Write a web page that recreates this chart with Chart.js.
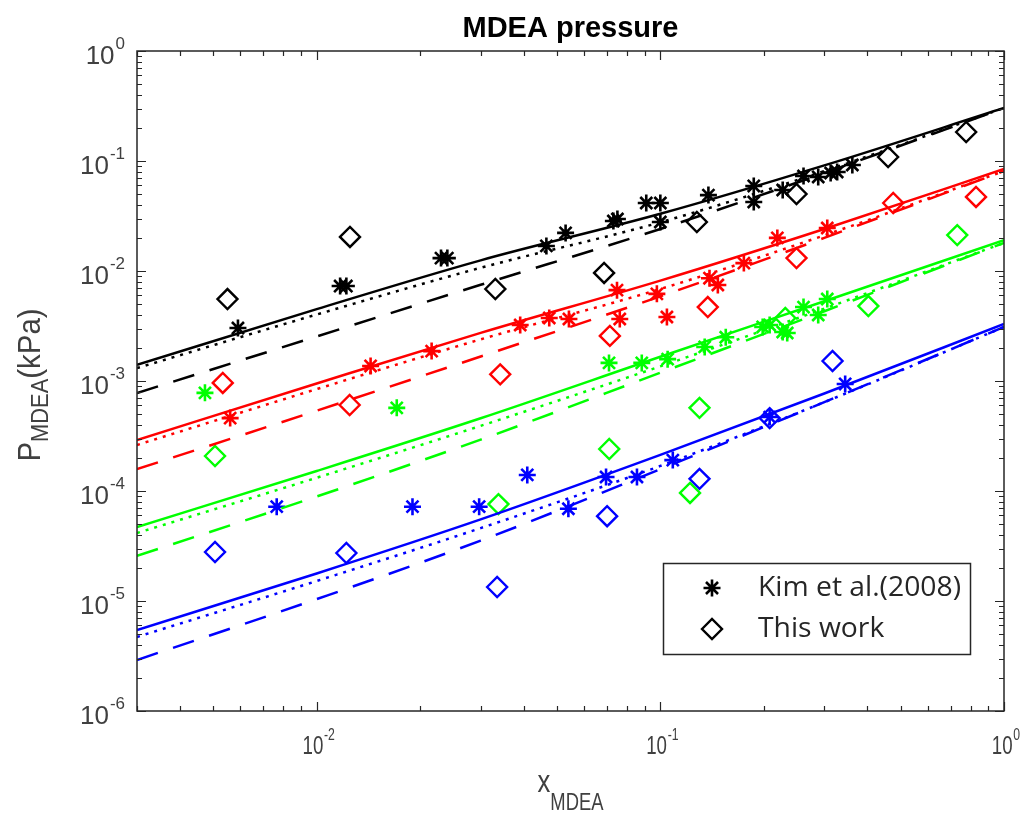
<!DOCTYPE html>
<html>
<head>
<meta charset="utf-8">
<script src="https://cdn.jsdelivr.net/npm/chart.js@4.4.1/dist/chart.umd.min.js"></script>
<style>
  html, body { margin: 0; padding: 0; background: #fff; }
  #wrap { width: 1027px; height: 816px; }
</style>
</head>
<body>
<div id="wrap"><canvas id="chart" width="1027" height="816"></canvas></div>
<script>
// model curves, sampled at these mole fractions
const modelX = [0.003, 0.01, 0.03, 0.1, 0.3, 1];

const blackSolid  = [1.40e-3, 4.50e-3, 1.25e-2, 3.31e-2, 9.12e-2, 0.303];
const blackDotted = [1.31e-3, 4.02e-3, 1.07e-2, 2.77e-2, 8.10e-2, 0.303];
const blackDashed = [7.78e-4, 2.54e-3, 7.49e-3, 2.41e-2, 7.78e-2, 0.303];

const redSolid  = [2.91e-4, 9.49e-4, 2.74e-3, 8.18e-3, 2.41e-2, 8.46e-2];
const redDotted = [2.62e-4, 8.44e-4, 2.39e-3, 6.86e-3, 2.11e-2, 8.11e-2];
const redDashed = [1.58e-4, 5.37e-4, 1.67e-3, 5.88e-3, 2.00e-2, 8.11e-2];

const greenSolid  = [4.71e-5, 1.52e-4, 4.58e-4, 1.66e-3, 5.31e-3, 1.91e-2];
const greenDotted = [4.15e-5, 1.32e-4, 3.91e-4, 1.36e-3, 4.55e-3, 1.80e-2];
const greenDashed = [2.57e-5, 8.91e-5, 2.93e-4, 1.19e-3, 4.31e-3, 1.80e-2];

const blueSolid  = [5.45e-6, 1.78e-5, 5.52e-5, 2.13e-4, 7.70e-4, 3.30e-3];
const blueDotted = [4.71e-6, 1.52e-5, 4.60e-5, 1.69e-4, 6.42e-4, 3.10e-3];
const blueDashed = [2.91e-6, 1.04e-5, 3.54e-5, 1.58e-4, 6.42e-4, 3.10e-3];

// Kim et al. (2008) points
const kimBlackX = [0.0059, 0.0117, 0.0122, 0.023, 0.024, 0.0466, 0.053, 0.073, 0.075, 0.091, 0.1, 0.1, 0.138, 0.187, 0.187, 0.227, 0.261, 0.288, 0.313, 0.327, 0.362];
const kimBlackY = [3.03e-3, 7.3e-3, 7.3e-3, 1.31e-2, 1.31e-2, 1.69e-2, 2.22e-2, 2.85e-2, 2.97e-2, 4.15e-2, 4.15e-2, 2.79e-2, 4.9e-2, 5.93e-2, 4.24e-2, 5.45e-2, 7.31e-2, 7.16e-2, 7.78e-2, 7.94e-2, 9.2e-2];
const kimRedX = [0.0056, 0.01435, 0.0216, 0.0391, 0.0475, 0.0542, 0.0748, 0.0762, 0.0977, 0.1045, 0.139, 0.147, 0.175, 0.219, 0.306];
const kimRedY = [4.6e-4, 1.37e-3, 1.87e-3, 3.23e-3, 3.74e-3, 3.66e-3, 6.7e-3, 3.66e-3, 6.2e-3, 3.82e-3, 8.6e-3, 7.46e-3, 1.18e-2, 2.0e-2, 2.46e-2];
const kimGreenX = [0.00473, 0.0171, 0.0709, 0.0883, 0.105, 0.1346, 0.155, 0.1985, 0.208, 0.227, 0.234, 0.261, 0.288, 0.306];
const kimGreenY = [7.8e-4, 5.7e-4, 1.46e-3, 1.46e-3, 1.58e-3, 2.04e-3, 2.5e-3, 3.1e-3, 3.23e-3, 2.79e-3, 2.73e-3, 4.7e-3, 3.98e-3, 5.56e-3];
const kimBlueX = [0.00765, 0.019, 0.0297, 0.041, 0.054, 0.0695, 0.0855, 0.1087, 0.208, 0.345];
const kimBlueY = [7.2e-5, 7.2e-5, 7.2e-5, 1.4e-4, 6.9e-5, 1.34e-4, 1.34e-4, 1.91e-4, 4.7e-4, 9.4e-4];

// this work points
const workBlackX = [0.0055, 0.0125, 0.0331, 0.0686, 0.1277, 0.249, 0.46, 0.776];
const workBlackY = [5.56e-3, 2.04e-2, 6.86e-3, 9.6e-3, 2.79e-2, 5.01e-2, 0.1087, 0.1835];
const workRedX = [0.00533, 0.01247, 0.0342, 0.0713, 0.1374, 0.249, 0.476, 0.829];
const workRedY = [9.6e-4, 6.05e-4, 1.15e-3, 2.57e-3, 4.7e-3, 1.31e-2, 4.15e-2, 4.71e-2];
const workGreenX = [0.00506, 0.0338, 0.071, 0.122, 0.130, 0.231, 0.403, 0.731];
const workGreenY = [2.08e-4, 7.6e-5, 2.41e-4, 9.6e-5, 5.7e-4, 3.74e-3, 4.8e-3, 2.12e-2];
const workBlueX = [0.00506, 0.0122, 0.0335, 0.07, 0.130, 0.208, 0.317];
const workBlueY = [2.79e-5, 2.73e-5, 1.34e-5, 5.9e-5, 1.29e-4, 4.6e-4, 1.52e-3];

const xTickExps = [-2, -1, 0];
const yTickExps = [-6, -5, -4, -3, -2, -1, 0];

const BLACK = '#000000', RED = '#ff0000', GREEN = '#00ff00', BLUE = '#0000ff';
const AXIS = '#262626';

function pts(xs, ys) {
    return xs.map((x, i) => ({ x: x, y: ys[i] }));
}

function modelLine(ys, color, style) {
    let dash = [];
    if (style === 'dotted') dash = [3, 6];
    if (style === 'dashed') dash = [22, 16];
    return {
        type: 'line',
        data: pts(modelX, ys),
        borderColor: color,
        borderWidth: 2.5,
        borderDash: dash,
        pointRadius: 0,
        fill: false,
        cubicInterpolationMode: 'monotone'
    };
}

function kim(xs, ys, color) {
    return {
        type: 'scatter',
        data: pts(xs, ys),
        pointStyle: 'star',
        pointRadius: 8.5,
        borderColor: color,
        backgroundColor: color,
        borderWidth: 2.6
    };
}

function work(xs, ys, color) {
    return {
        type: 'scatter',
        data: pts(xs, ys),
        pointStyle: 'rectRot',
        pointRadius: 10,
        borderColor: color,
        backgroundColor: 'rgba(0,0,0,0)',
        borderWidth: 2.4
    };
}

const datasets = [
    modelLine(blackSolid, BLACK, 'solid'), modelLine(blackDotted, BLACK, 'dotted'), modelLine(blackDashed, BLACK, 'dashed'),
    modelLine(redSolid, RED, 'solid'), modelLine(redDotted, RED, 'dotted'), modelLine(redDashed, RED, 'dashed'),
    modelLine(greenSolid, GREEN, 'solid'), modelLine(greenDotted, GREEN, 'dotted'), modelLine(greenDashed, GREEN, 'dashed'),
    modelLine(blueSolid, BLUE, 'solid'), modelLine(blueDotted, BLUE, 'dotted'), modelLine(blueDashed, BLUE, 'dashed'),
    kim(kimBlackX, kimBlackY, BLACK), kim(kimRedX, kimRedY, RED), kim(kimGreenX, kimGreenY, GREEN), kim(kimBlueX, kimBlueY, BLUE),
    work(workBlackX, workBlackY, BLACK), work(workRedX, workRedY, RED), work(workGreenX, workGreenY, GREEN), work(workBlueX, workBlueY, BLUE)
];

// draws "10" with a raised exponent
function drawPower(ctx, exp, x, y, o) {
    ctx.save();
    ctx.fillStyle = o.color;
    ctx.textAlign = 'left';
    ctx.textBaseline = 'alphabetic';
    ctx.font = o.base;
    const wb = ctx.measureText('10').width;
    ctx.font = o.sup;
    const ws = ctx.measureText(exp).width;
    const total = (wb + ws + 1) * o.sx;
    const left = o.align === 'right' ? x - total : x - total / 2;
    ctx.translate(left, y);
    ctx.scale(o.sx, 1);
    ctx.font = o.base;
    ctx.fillText('10', 0, 0);
    ctx.font = o.sup;
    ctx.fillText(exp, wb + 1, -o.rise);
    ctx.restore();
}

// main text followed by a lowered subscript (and optional tail)
function drawSubText(ctx, main, sub, tail, mainFont, subFont, drop, sx) {
    ctx.font = mainFont;
    const w1 = ctx.measureText(main).width;
    ctx.font = subFont;
    const w2 = ctx.measureText(sub).width;
    ctx.font = mainFont;
    const w3 = tail ? ctx.measureText(tail).width : 0;
    const total = w1 + w2 + w3;
    ctx.scale(sx, 1);
    let x = -total / 2;
    ctx.font = mainFont;
    ctx.fillText(main, x, 0);
    x += w1;
    ctx.font = subFont;
    ctx.fillText(sub, x, drop);
    x += w2;
    if (tail) {
        ctx.font = mainFont;
        ctx.fillText(tail, x, 0);
    }
}

function drawMarker(ctx, style, radius, x, y) {
    ctx.save();
    ctx.strokeStyle = BLACK;
    ctx.fillStyle = style === 'star' ? BLACK : 'rgba(0,0,0,0)';
    ctx.lineWidth = style === 'star' ? 2.6 : 2.4;
    if (Chart.helpers && Chart.helpers.drawPoint) {
        Chart.helpers.drawPoint(ctx, { pointStyle: style, radius: radius, rotation: 0, borderWidth: ctx.lineWidth }, x, y);
    } else {
        ctx.beginPath();
        if (style === 'star') {
            for (let k = 0; k < 4; k++) {
                const a = k * Math.PI / 4;
                ctx.moveTo(x - Math.cos(a) * radius, y - Math.sin(a) * radius);
                ctx.lineTo(x + Math.cos(a) * radius, y + Math.sin(a) * radius);
            }
        } else {
            ctx.moveTo(x, y - radius); ctx.lineTo(x + radius, y);
            ctx.lineTo(x, y + radius); ctx.lineTo(x - radius, y); ctx.closePath();
        }
        ctx.stroke();
    }
    ctx.restore();
}

const matlabAxes = {
    id: 'matlabAxes',
    afterDraw(chart) {
        const ctx = chart.ctx;
        const a = chart.chartArea;
        const xs = chart.scales.x, ys = chart.scales.y;

        ctx.save();
        // box
        ctx.strokeStyle = AXIS;
        ctx.lineWidth = 1.5;
        ctx.strokeRect(a.left, a.top, a.right - a.left, a.bottom - a.top);

        // inward ticks on all four sides
        ctx.lineWidth = 1.2;
        ctx.beginPath();
        for (let e = -3; e <= 0; e++) {
            for (let m = 1; m <= 9; m++) {
                const v = m * Math.pow(10, e);
                if (v < xs.min * 0.999 || v > xs.max * 1.001) continue;
                const len = m === 1 ? 9 : 5;
                const p = Math.round(xs.getPixelForValue(v)) + 0.5;
                ctx.moveTo(p, a.bottom); ctx.lineTo(p, a.bottom - len);
                ctx.moveTo(p, a.top); ctx.lineTo(p, a.top + len);
            }
        }
        for (let e = -6; e <= 0; e++) {
            for (let m = 1; m <= 9; m++) {
                const v = m * Math.pow(10, e);
                if (v < ys.min * 0.999 || v > ys.max * 1.001) continue;
                const len = m === 1 ? 9 : 5;
                const p = Math.round(ys.getPixelForValue(v)) + 0.5;
                ctx.moveTo(a.left, p); ctx.lineTo(a.left + len, p);
                ctx.moveTo(a.right, p); ctx.lineTo(a.right - len, p);
            }
        }
        ctx.stroke();

        // tick labels
        yTickExps.forEach(e => {
            const p = ys.getPixelForValue(Math.pow(10, e));
            drawPower(ctx, String(e), 125, p + 13, {
                base: '26px "Liberation Sans", Arial, sans-serif',
                sup: '17px "Liberation Sans", Arial, sans-serif',
                rise: 15, sx: 1, align: 'right', color: '#404040'
            });
        });
        xTickExps.forEach(e => {
            const p = xs.getPixelForValue(Math.pow(10, e));
            drawPower(ctx, String(e), p + 2, 754, {
                base: '26px "Liberation Sans", Arial, sans-serif',
                sup: '17px "Liberation Sans", Arial, sans-serif',
                rise: 14, sx: 0.72, align: 'center', color: '#404040'
            });
        });

        // axis titles
        ctx.fillStyle = '#404040';
        ctx.textBaseline = 'alphabetic';
        ctx.textAlign = 'left';
        ctx.save();
        ctx.translate(40, (a.top + a.bottom) / 2 + 4);
        ctx.rotate(-Math.PI / 2);
        drawSubText(ctx, 'P', 'MDEA', '(kPa)', '31px "Liberation Sans", Arial, sans-serif', '23px "Liberation Sans", Arial, sans-serif', 8, 0.95);
        ctx.restore();
        ctx.save();
        ctx.translate((a.left + a.right) / 2, 792);
        drawSubText(ctx, 'x', 'MDEA', '', '32px "Liberation Sans", Arial, sans-serif', '23px "Liberation Sans", Arial, sans-serif', 18, 0.8);
        ctx.restore();

        // title
        ctx.fillStyle = '#000';
        ctx.textAlign = 'center';
        ctx.font = 'bold 29px "Liberation Sans", Arial, sans-serif';
        ctx.fillText('MDEA pressure', (a.left + a.right) / 2, 37);

        // legend
        ctx.fillStyle = '#fff';
        ctx.fillRect(663, 563, 307, 91);
        ctx.strokeStyle = AXIS;
        ctx.lineWidth = 1.5;
        ctx.strokeRect(663.5, 563.5, 307, 91);
        drawMarker(ctx, 'star', 8.5, 712, 588);
        drawMarker(ctx, 'rectRot', 10, 712, 629);
        ctx.fillStyle = '#262626';
        ctx.textAlign = 'left';
        ctx.font = '27px "Open Sans", sans-serif';
        const fit = 203 / ctx.measureText('Kim et al.(2008)').width;
        ctx.save();
        ctx.translate(758, 596);
        ctx.scale(fit, 1);
        ctx.fillText('Kim et al.(2008)', 0, 0);
        ctx.restore();
        ctx.save();
        ctx.translate(758, 637);
        ctx.scale(fit, 1);
        ctx.fillText('This work', 0, 0);
        ctx.restore();

        ctx.restore();
    }
};

new Chart(document.getElementById('chart'), {
    type: 'scatter',
    data: { datasets: datasets },
    options: {
        responsive: false,
        animation: false,
        events: [],
        layout: { padding: { left: 137, right: 23, top: 51, bottom: 105 } },
        scales: {
            x: { type: 'logarithmic', min: 0.003, max: 1, display: false },
            y: { type: 'logarithmic', min: 1e-6, max: 1, display: false }
        },
        plugins: {
            legend: { display: false },
            tooltip: { enabled: false }
        }
    },
    plugins: [matlabAxes]
});
</script>
</body>
</html>
